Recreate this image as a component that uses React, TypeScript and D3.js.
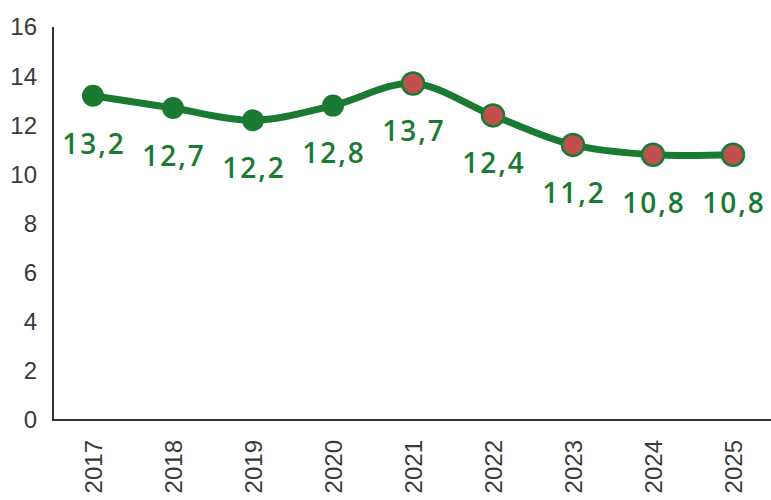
import React from "react";
import * as d3 from "d3";

const years = ["2017", "2018", "2019", "2020", "2021", "2022", "2023", "2024", "2025"];
const values = [13.2, 12.7, 12.2, 12.8, 13.7, 12.4, 11.2, 10.8, 10.8];
const forecast = [false, false, false, false, true, true, true, true, true];
const yTicks = [0, 2, 4, 6, 8, 10, 12, 14, 16];

const W = 771;
const H = 500;
const GREEN = "#1b7a32";
const RED = "#c0504d";

export default function App() {
  const x = d3.scaleBand<string>().domain(years).range([53, 773]);
  const y = d3.scaleLinear().domain([0, 16]).range([420, 27]);
  const cx = (d: string) => (x(d) as number) + x.bandwidth() / 2;
  const line = d3
    .line<number>()
    .x((_, i) => cx(years[i]))
    .y((v) => y(v))
    .curve(d3.curveCatmullRom.alpha(0.5));

  return (
    <svg
      width={W}
      height={H}
      style={{ position: "absolute", left: 0, top: 0, background: "#fff" }}
    >
      {yTicks.map((t) => (
        <text
          key={t}
          x={37}
          y={y(t)}
          dy="0.35em"
          textAnchor="end"
          fontFamily="Liberation Sans, Arial, sans-serif"
          fontSize={24}
          fill="#3a3a3a"
        >
          {t}
        </text>
      ))}
      <line x1={53} x2={53} y1={27} y2={420} stroke="#333" strokeWidth={2} />
      <line x1={52} x2={771} y1={420} y2={420} stroke="#333" strokeWidth={2} />
      {years.map((yr) => (
        <text
          key={yr}
          transform={`translate(${cx(yr) + 1},440) rotate(-90)`}
          dy="0.35em"
          textAnchor="end"
          fontFamily="Liberation Sans, Arial, sans-serif"
          fontSize={24}
          fill="#3a3a3a"
        >
          {yr}
        </text>
      ))}
      <path d={line(values) || ""} fill="none" stroke={GREEN} strokeWidth={7} strokeLinecap="round" />
      {values.map((v, i) => (
        <circle
          key={i}
          cx={cx(years[i])}
          cy={y(v)}
          r={11}
          fill={forecast[i] ? RED : GREEN}
          stroke={GREEN}
          strokeWidth={forecast[i] ? 2.5 : 0}
        />
      ))}
      {values.map((v, i) => (
        <text
          key={"l" + i}
          x={cx(years[i]) + 1}
          y={y(v) + 48}
          dy="0.35em"
          textAnchor="middle"
          fontFamily="Open Sans, sans-serif"
          fontWeight={600}
          fontSize={28}
          letterSpacing={2}
          fill={GREEN}
        >
          {String(v.toFixed(1)).replace(".", ",")}
        </text>
      ))}
    </svg>
  );
}
